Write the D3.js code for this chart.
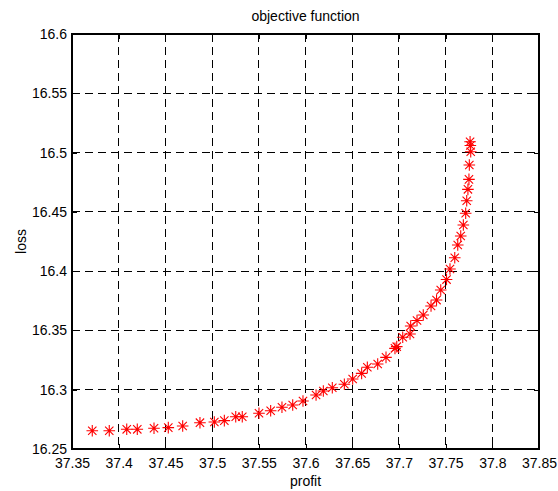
<!DOCTYPE html>
<html>
<head>
<meta charset="utf-8">
<script src="https://cdn.jsdelivr.net/npm/d3@7"></script>
<style>
  body { margin: 0; background: #fff; }
  text { font-family: "Liberation Sans", Arial, sans-serif; fill: #000; }
</style>
</head>
<body>
<div id="chart"></div>
<script>
// values
const profit = [37.3717, 37.3899, 37.4086, 37.4199, 37.4378, 37.4531, 37.4685, 37.4870, 37.5024, 37.5131,
    37.5253, 37.5323, 37.5502, 37.5627, 37.5748, 37.5863, 37.5973, 37.6113, 37.6191, 37.6287,
    37.6416, 37.6505, 37.6601, 37.6662, 37.6773, 37.6862, 37.6958, 37.6977, 37.7041, 37.7119,
    37.7126, 37.7194, 37.7261, 37.7344, 37.7403, 37.7448, 37.7510, 37.7547, 37.7598, 37.7630,
    37.7662, 37.7690, 37.7715, 37.7726, 37.7739, 37.7750, 37.7754, 37.7769, 37.7762, 37.7765];
const loss = [16.2654, 16.2654, 16.2666, 16.2666, 16.2675, 16.2680, 16.2694, 16.2722, 16.2728, 16.2739,
    16.2772, 16.2772, 16.2801, 16.2823, 16.2852, 16.2871, 16.2905, 16.2955, 16.2989, 16.3017,
    16.3046, 16.3090, 16.3138, 16.3189, 16.3217, 16.3273, 16.3349, 16.3363, 16.3442, 16.3470,
    16.3537, 16.3584, 16.3630, 16.3706, 16.3756, 16.3841, 16.3929, 16.4018, 16.4113, 16.4220,
    16.4296, 16.4389, 16.4488, 16.4594, 16.4690, 16.4774, 16.4895, 16.5007, 16.5091, 16.5060];

const xTicks = [37.35, 37.4, 37.45, 37.5, 37.55, 37.6, 37.65, 37.7, 37.75, 37.8, 37.85];
const yTicks = [16.25, 16.3, 16.35, 16.4, 16.45, 16.5, 16.55, 16.6];

const width = 558, height = 491;
const plotL = 72, plotR = 539, plotT = 34, plotB = 449;

const svg = d3.select("#chart").append("svg")
    .attr("width", width)
    .attr("height", height);

const x = d3.scaleLinear().domain([37.35, 37.85]).range([plotL, plotR]);
const y = d3.scaleLinear().domain([16.25, 16.6]).range([plotB, plotT]);

const fmt = d => String(+d.toFixed(2));

// grid
svg.append("g")
    .selectAll("line")
    .data(xTicks.slice(1, -1))
    .join("line")
    .attr("x1", d => x(d)).attr("x2", d => x(d))
    .attr("y1", plotT).attr("y2", plotB)
    .attr("stroke", "#000").attr("stroke-width", 1)
    .attr("stroke-dasharray", "8,5")
    .attr("shape-rendering", "crispEdges");

svg.append("g")
    .selectAll("line")
    .data(yTicks.slice(1, -1))
    .join("line")
    .attr("y1", d => y(d)).attr("y2", d => y(d))
    .attr("x1", plotL).attr("x2", plotR)
    .attr("stroke", "#000").attr("stroke-width", 1)
    .attr("stroke-dasharray", "8,5")
    .attr("shape-rendering", "crispEdges");

// axes, ticks point inward
svg.append("g")
    .attr("transform", `translate(0,${plotB})`)
    .call(d3.axisBottom(x).tickValues(xTicks).tickFormat(fmt).tickSizeInner(-5).tickSizeOuter(0).tickPadding(9));
svg.append("g")
    .attr("transform", `translate(${plotL},0)`)
    .call(d3.axisLeft(y).tickValues(yTicks).tickFormat(fmt).tickSizeInner(-5).tickSizeOuter(0).tickPadding(5));
svg.append("g")
    .attr("transform", `translate(0,${plotT})`)
    .call(d3.axisTop(x).tickValues(xTicks).tickFormat("").tickSizeInner(-5).tickSizeOuter(0));
svg.append("g")
    .attr("transform", `translate(${plotR},0)`)
    .call(d3.axisRight(y).tickValues(yTicks).tickFormat("").tickSizeInner(-5).tickSizeOuter(0));

svg.selectAll(".domain").remove();
svg.selectAll(".tick line").attr("stroke", "#000").attr("shape-rendering", "crispEdges");
svg.selectAll(".tick text").style("font-size", "14px").attr("fill", "#000");

// box
svg.append("rect")
    .attr("x", plotL).attr("y", plotT)
    .attr("width", plotR - plotL).attr("height", plotB - plotT)
    .attr("fill", "none").attr("stroke", "#000").attr("stroke-width", 1.2)
    .attr("shape-rendering", "crispEdges");

// asterisk markers
const r = 5.8, rd = r * 0.72;
const star = `M${-r},0L${r},0M0,${-r}L0,${r}M${-rd},${-rd}L${rd},${rd}M${-rd},${rd}L${rd},${-rd}`;
svg.append("g")
    .selectAll("path")
    .data(profit.map((p, i) => [p, loss[i]]))
    .join("path")
    .attr("transform", d => `translate(${x(d[0])},${y(d[1])})`)
    .attr("d", star)
    .attr("fill", "none")
    .attr("stroke", "#ff0000")
    .attr("stroke-width", 1.1);

// labels
svg.append("text")
    .attr("x", (plotL + plotR) / 2).attr("y", 21)
    .attr("text-anchor", "middle")
    .style("font-size", "14px")
    .text("objective function");
svg.append("text")
    .attr("x", (plotL + plotR) / 2).attr("y", 486)
    .attr("text-anchor", "middle")
    .style("font-size", "14px")
    .text("profit");
svg.append("text")
    .attr("transform", `translate(26,${(plotT + plotB) / 2}) rotate(-90)`)
    .attr("text-anchor", "middle")
    .style("font-size", "14px")
    .text("loss");
</script>
</body>
</html>
